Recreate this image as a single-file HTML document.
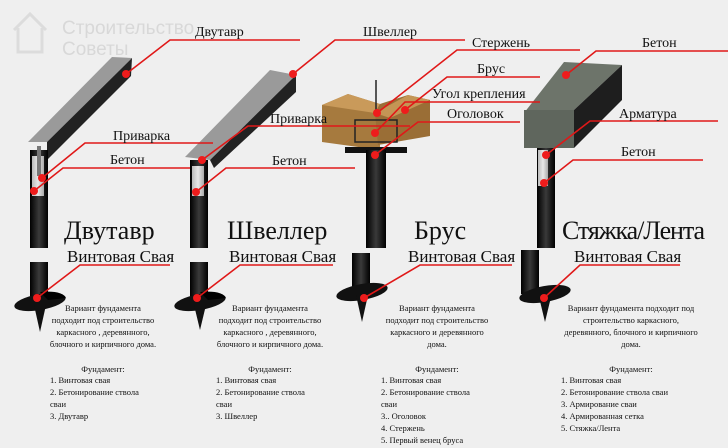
<!DOCTYPE html>
<html><head><meta charset="utf-8"><style>
html,body{margin:0;padding:0;background:#efefef;}
svg{display:block}
text{font-family:"Liberation Serif",serif;fill:#111}
.l{stroke:#e01818;stroke-width:1.6;fill:none}
.d{fill:#ee1c1c}
.s{font-size:8.5px}
</style></head><body>
<svg width="728" height="448" viewBox="0 0 728 448">
<defs>
<linearGradient id="pg" x1="0" x2="1"><stop offset="0" stop-color="#000"/><stop offset="0.5" stop-color="#3a3a3a"/><stop offset="1" stop-color="#000"/></linearGradient>
<linearGradient id="cg" x1="0" x2="1"><stop offset="0" stop-color="#bbb"/><stop offset="0.5" stop-color="#e8e8e8"/><stop offset="1" stop-color="#aaa"/></linearGradient>
</defs>
<rect width="728" height="448" fill="#efefef"/>
<g opacity="0.35" fill="none" stroke="#bbb" stroke-width="3">
<path d="M14 30 L30 14 L46 30 M18 28 V52 H42 V28"/>
</g>
<text x="62" y="34" style="font-family:'Liberation Sans',sans-serif;fill:#d8d8d8" font-size="19">Строительство</text>
<text x="62" y="55" style="font-family:'Liberation Sans',sans-serif;fill:#d8d8d8" font-size="19">Советы</text>

<polygon points="28,142 112,57 132,58 47,142" fill="#9a9a9a"/>
<polygon points="47,142 132,58 131,76 47,160" fill="#222"/>
<rect x="30" y="150" width="18" height="98" fill="url(#pg)"/>
<rect x="32" y="156" width="12" height="40" fill="url(#cg)"/>
<rect x="37" y="146" width="4" height="30" fill="#777"/>
<rect x="30" y="262" width="18" height="40" fill="url(#pg)"/>
<ellipse cx="40" cy="302" rx="26" ry="8" fill="#111" transform="rotate(-10 40 302)"/>
<path d="M40 292 Q62 290 66 298 L48 300 Z" fill="#000"/>
<polygon points="34,305 46,305 40,332" fill="#111"/>

<polygon points="185,157 270,70 296,75 210,160" fill="#9a9a9a"/>
<polygon points="210,160 296,75 296,92 214,168" fill="#222"/>
<rect x="190" y="160" width="18" height="88" fill="url(#pg)"/>
<rect x="192" y="166" width="12" height="30" fill="url(#cg)"/>
<rect x="190" y="262" width="18" height="38" fill="url(#pg)"/>
<ellipse cx="200" cy="302" rx="26" ry="8" fill="#111" transform="rotate(-10 200 302)"/>
<path d="M200 292 Q222 290 226 298 L208 300 Z" fill="#000"/>
<polygon points="194,305 206,305 200,330" fill="#111"/>

<polygon points="322,105 348,94 380,104 380,150 322,142" fill="#a67a3e"/>
<polygon points="322,105 348,94 380,104 375,113" fill="#c99a5a"/>
<polygon points="375,113 380,104 408,95 430,100 430,136 378,145" fill="#9a6e36"/>
<polygon points="375,113 408,95 430,100 390,118" fill="#c49555"/>
<rect x="355" y="120" width="42" height="22" fill="none" stroke="#222" stroke-width="1.5"/>
<line x1="376" y1="80" x2="376" y2="110" stroke="#222" stroke-width="1.5"/>
<rect x="345" y="147" width="62" height="6" fill="#111"/>
<rect x="366" y="150" width="20" height="98" fill="url(#pg)"/>
<rect x="352" y="253" width="18" height="40" fill="url(#pg)"/>
<ellipse cx="362" cy="292" rx="26" ry="8" fill="#111" transform="rotate(-10 362 292)"/>
<polygon points="356,295 368,295 362,322" fill="#111"/>

<polygon points="524,113 564,62 622,65 574,110" fill="#6d746a"/>
<polygon points="574,110 622,65 622,100 574,148" fill="#1e1e1e"/>
<rect x="524" y="110" width="50" height="38" fill="#5f665d"/>
<rect x="537" y="148" width="18" height="100" fill="url(#pg)"/>
<rect x="538" y="150" width="10" height="36" fill="url(#cg)"/>
<rect x="521" y="250" width="18" height="44" fill="url(#pg)"/>
<ellipse cx="545" cy="294" rx="26" ry="8" fill="#111" transform="rotate(-10 545 294)"/>
<polygon points="539,297 551,297 545,322" fill="#111"/>

<g class="l">
<polyline points="126,74 170,40 300,40"/>
<polyline points="42,178 85,143 213,143"/>
<polyline points="34,191 63,168 190,168"/>
<polyline points="37,298 80,265 170,265"/>
<polyline points="293,74 335,40 465,40"/>
<polyline points="202,160 248,126 410,126"/>
<polyline points="196,192 226,168 355,168"/>
<polyline points="197,298 240,265 333,265"/>
<polyline points="377,113 457,50 580,50"/>
<polyline points="405,110 447,77 540,77"/>
<polyline points="375,133 405,102 540,102"/>
<polyline points="375,155 418,122 520,122"/>
<polyline points="364,298 420,265 512,265"/>
<polyline points="566,75 596,51 728,51"/>
<polyline points="546,155 590,121 718,121"/>
<polyline points="544,183 573,160 703,160"/>
<polyline points="544,298 580,265 680,265"/>
</g>
<g class="d">
<circle cx="126" cy="74" r="4"/><circle cx="42" cy="178" r="4"/><circle cx="34" cy="191" r="4"/><circle cx="37" cy="298" r="4"/>
<circle cx="293" cy="74" r="4"/><circle cx="202" cy="160" r="4"/><circle cx="196" cy="192" r="4"/><circle cx="197" cy="298" r="4"/>
<circle cx="377" cy="113" r="4"/><circle cx="405" cy="110" r="4"/><circle cx="375" cy="133" r="4"/><circle cx="375" cy="155" r="4"/><circle cx="364" cy="298" r="4"/>
<circle cx="566" cy="75" r="4"/><circle cx="546" cy="155" r="4"/><circle cx="544" cy="183" r="4"/><circle cx="544" cy="298" r="4"/>
</g>
<g font-size="14">
<text x="195" y="36">Двутавр</text>
<text x="113" y="140">Приварка</text>
<text x="110" y="164">Бетон</text>
<text x="363" y="36">Швеллер</text>
<text x="270" y="123">Приварка</text>
<text x="272" y="165">Бетон</text>
<text x="472" y="47">Стержень</text>
<text x="477" y="73">Брус</text>
<text x="432" y="98">Угол крепления</text>
<text x="447" y="118">Оголовок</text>
<text x="642" y="47">Бетон</text>
<text x="619" y="118">Арматура</text>
<text x="621" y="156">Бетон</text>
</g>
<g font-size="26">
<text x="64" y="239">Двутавр</text>
<text x="227" y="239">Швеллер</text>
<text x="414" y="239">Брус</text>
<text x="562" y="239" textLength="143">Стяжка/Лента</text>
</g>
<g font-size="17">
<text x="67" y="262">Винтовая Свая</text>
<text x="229" y="262">Винтовая Свая</text>
<text x="408" y="262">Винтовая Свая</text>
<text x="574" y="262">Винтовая Свая</text>
</g>
<g class="s" text-anchor="middle">
<text x="103" y="311">Вариант фундамента</text>
<text x="103" y="323">подходит под строительство</text>
<text x="103" y="335">каркасного , деревянного,</text>
<text x="103" y="347">блочного и кирпичного дома.</text>
<text x="103" y="372">Фундамент:</text>
<text x="270" y="311">Вариант фундамента</text>
<text x="270" y="323">подходит под строительство</text>
<text x="270" y="335">каркасного , деревянного,</text>
<text x="270" y="347">блочного и кирпичного дома.</text>
<text x="270" y="372">Фундамент:</text>
<text x="437" y="311">Вариант фундамента</text>
<text x="437" y="323">подходит под строительство</text>
<text x="437" y="335">каркасного и деревянного</text>
<text x="437" y="347">дома.</text>
<text x="437" y="372">Фундамент:</text>
<text x="631" y="311">Вариант фундамента подходит под</text>
<text x="631" y="323">строительство каркасного,</text>
<text x="631" y="335">деревянного, блочного и кирпичного</text>
<text x="631" y="347">дома.</text>
<text x="631" y="372">Фундамент:</text>
</g>
<g class="s">
<text x="50" y="383">1. Винтовая свая</text>
<text x="50" y="395">2. Бетонирование ствола</text>
<text x="50" y="407">сваи</text>
<text x="50" y="419">3. Двутавр</text>
<text x="216" y="383">1. Винтовая свая</text>
<text x="216" y="395">2. Бетонирование ствола</text>
<text x="216" y="407">сваи</text>
<text x="216" y="419">3. Швеллер</text>
<text x="381" y="383">1. Винтовая свая</text>
<text x="381" y="395">2. Бетонирование ствола</text>
<text x="381" y="407">сваи</text>
<text x="381" y="419">3.. Оголовок</text>
<text x="381" y="431">4. Стержень</text>
<text x="381" y="443">5. Первый венец бруса</text>
<text x="561" y="383">1. Винтовая свая</text>
<text x="561" y="395">2. Бетонирование ствола сваи</text>
<text x="561" y="407">3. Армирование сваи</text>
<text x="561" y="419">4. Армированная сетка</text>
<text x="561" y="431">5. Стяжка/Лента</text>
</g>
</svg>
</body></html>
